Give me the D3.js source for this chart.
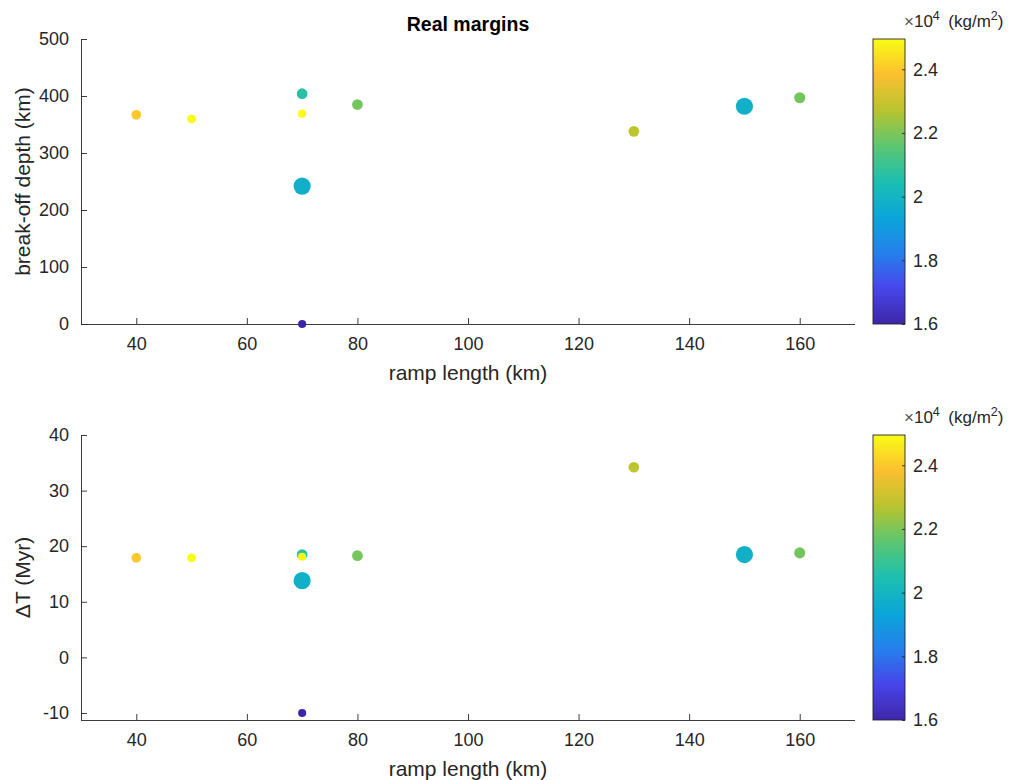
<!DOCTYPE html>
<html><head><meta charset="utf-8">
<script src="https://cdn.jsdelivr.net/npm/d3@7"></script>
<style>
body{margin:0;background:#fff;}
text{font-family:"Liberation Sans",Arial,Helvetica,sans-serif;fill:#262626;}
</style></head>
<body><svg id="c" width="1016" height="780"></svg>
<script>
// ---- data ----
const rampLength = [40, 50, 70, 70, 70, 70, 80, 130, 150, 160];          // km
const breakoffDepth = [367, 360, 404, 369, 242, 0, 385, 338, 382, 397];   // km
const deltaT = [17.9, 17.9, 18.5, 18.1, 13.8, -10, 18.3, 34.2, 18.5, 18.8]; // Myr
const density = [2.40, 2.495, 2.07, 2.495, 1.98, 1.60, 2.19, 2.28, 1.98, 2.19]; // x1e4 kg/m^2
const sizeValue = [23, 19, 28, 16, 72, 16, 28, 28, 72, 30];              // marker area units
const xTicks = [40, 60, 80, 100, 120, 140, 160];
const yTicksTop = [0, 100, 200, 300, 400, 500];
const yTicksBottom = [-10, 0, 10, 20, 30, 40];
const cTicks = [1.6, 1.8, 2.0, 2.2, 2.4];
const cTickLabels = ["1.6", "1.8", "2", "2.2", "2.4"];

// parula-like colormap stops
const parulaStops = ["#3e26a8","#4745ea","#2580ec","#0aa6d8","#1cbfb0","#5cc671","#b8c42e","#fcbf30","#f9fb15"];
const parula = d3.piecewise(d3.interpolateRgb, parulaStops);

const svg = d3.select("#c");
const ax = {left: 81, right: 855};
const panels = [
  {top: 39, bottom: 324, y: breakoffDepth, dom: [0, 500], ticks: yTicksTop, ylabel: "break-off depth (km)"},
  {top: 435, bottom: 720, y: deltaT, dom: [-11.26, 40], ticks: yTicksBottom, ylabel: "\u0394T (Myr)"}
];
const x = d3.scaleLinear().domain([30, 170]).range([ax.left, ax.right]);
const cScale = d3.scaleSequential(parula).domain([1.6, 2.495]);
const rScale = d3.scaleSqrt().domain([0, 72]).range([0, 8.6]);
const idx = d3.range(rampLength.length);

svg.append("text").attr("x", (ax.left + ax.right) / 2).attr("y", 31)
  .attr("text-anchor", "middle").style("font-size", "19.5px").style("font-weight", "bold")
  .style("fill", "#000").text("Real margins");

panels.forEach((p, pi) => {
  const y = d3.scaleLinear().domain(p.dom).range([p.bottom, p.top]);
  const g = svg.append("g");
  const xa = g.append("g").attr("transform", `translate(0,${p.bottom})`)
    .call(d3.axisBottom(x).tickValues(xTicks).tickFormat(d => String(d)).tickSizeInner(-6).tickSizeOuter(0).tickPadding(13));
  const ya = g.append("g").attr("transform", `translate(${ax.left},0)`)
    .call(d3.axisLeft(y).tickValues(p.ticks).tickFormat(d => String(d)).tickSizeInner(-6).tickSizeOuter(0).tickPadding(12));
  [xa, ya].forEach(a => {
    a.select(".domain").attr("stroke", "#262626").attr("stroke-width", 0.9);
    a.selectAll(".tick line").attr("stroke", "#262626").attr("stroke-width", 0.9);
    a.selectAll(".tick text").style("font-size", "18px").style("fill", "#262626")
      .attr("font-family", "Liberation Sans, Arial, sans-serif");
  });
  xa.select(".domain").attr("d", `M${ax.left},0.5H${ax.right}`);
  ya.select(".domain").attr("d", `M0.5,${p.bottom}V${p.top}`);
  g.append("text").attr("x", (ax.left + ax.right) / 2).attr("y", p.bottom + 56)
    .attr("text-anchor", "middle").style("font-size", "21px").text("ramp length (km)");
  g.append("text").attr("transform", `translate(30,${(p.top + p.bottom) / 2}) rotate(-90)`)
    .attr("text-anchor", "middle").style("font-size", "21px").text(p.ylabel);
  g.append("g").selectAll("circle").data(idx).join("circle")
    .attr("cx", i => x(rampLength[i])).attr("cy", i => y(p.y[i]))
    .attr("r", i => rScale(sizeValue[i])).attr("fill", i => cScale(density[i]));

  // colorbar
  const cb = {left: 873, right: 905};
  const cy = d3.scaleLinear().domain(cScale.domain()).range([p.bottom, p.top]);
  const gid = "grad" + pi;
  const grad = svg.append("defs").append("linearGradient").attr("id", gid)
    .attr("x1", 0).attr("y1", 1).attr("x2", 0).attr("y2", 0);
  d3.range(0, 1.0001, 1 / 64).forEach(t => grad.append("stop").attr("offset", t).attr("stop-color", parula(t)));
  g.append("rect").attr("x", cb.left).attr("y", p.top).attr("width", cb.right - cb.left)
    .attr("height", p.bottom - p.top).attr("fill", `url(#${gid})`).attr("stroke", "#262626").attr("stroke-width", 0.9);
  const ca = g.append("g").attr("transform", `translate(${cb.right},0)`)
    .call(d3.axisRight(cy).tickValues(cTicks).tickFormat((d, i) => cTickLabels[i]).tickSizeInner(-3).tickSizeOuter(0).tickPadding(8));
  ca.select(".domain").remove();
  ca.selectAll(".tick line").attr("stroke", "#262626").attr("stroke-width", 0.9);
  ca.selectAll(".tick text").style("font-size", "18px").style("fill", "#262626");
  const lab = g.append("text").attr("x", 904).attr("y", p.top - 12).style("font-size", "17px");
  lab.append("tspan").style("fill", "#555").text("\u00d7");
  lab.append("tspan").text("10");
  lab.append("tspan").attr("dy", -7).style("font-size", "12.5px").text("4");
  lab.append("tspan").attr("dy", 7).text("\u2002(kg/m");
  lab.append("tspan").attr("dy", -7).style("font-size", "12.5px").text("2");
  lab.append("tspan").attr("dy", 7).text(")");
});
</script></body></html>
